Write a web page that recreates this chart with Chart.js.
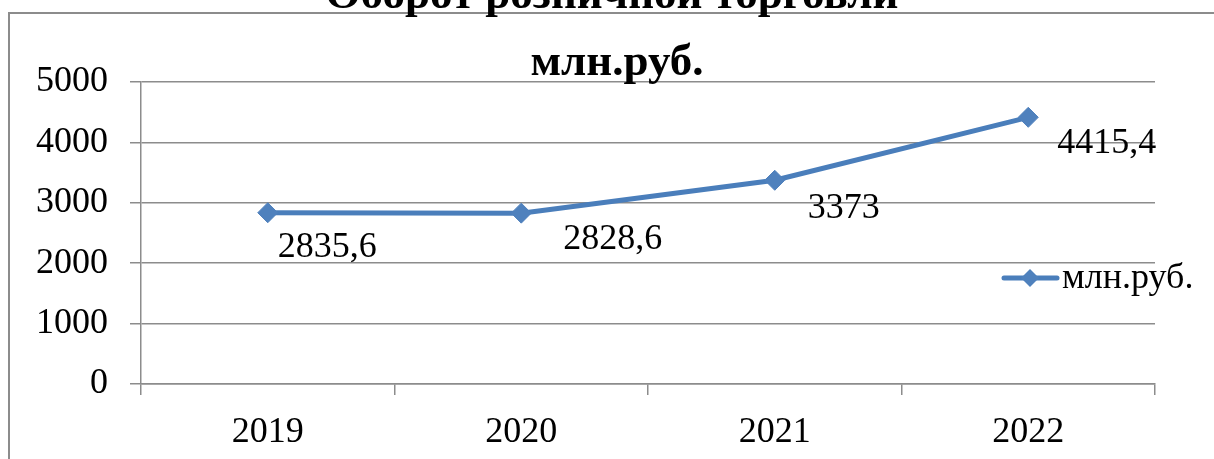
<!DOCTYPE html>
<html>
<head>
<meta charset="utf-8">
<script src="https://cdn.jsdelivr.net/npm/chart.js@4/dist/chart.umd.min.js"></script>
<style>
    html, body { margin: 0; padding: 0; background: #ffffff; }
    #wrap { width: 1214px; height: 459px; position: relative; }
</style>
</head>
<body>
<div id="wrap"><canvas id="salesChart"></canvas></div>
<script>
// Retail turnover chart - line with labels

const years = ['2019', '2020', '2021', '2022'];
const turnover = [2835.6, 2828.6, 3373, 4415.4];
const yTicks = [0, 1000, 2000, 3000, 4000, 5000];
const seriesName = 'млн.руб.';
const chartTitle = 'Оборот розничной торговли';
const chartSubtitle = 'млн.руб.';

// label offsets from each point (manually placed in the original)
const labelDx = [10, 42, 33, 29];
const labelDy = [44, 36, 38, 36];

const SERIF = "'Liberation Serif', 'Times New Roman', serif";
const LINE_COLOR = '#4a7ebb';
const MARK_COLOR = '#4f81bd';
const GRID_COLOR = '#8c8c8c';

const frameAndText = {
    id: 'frameAndText',
    beforeDraw(chart) {
        const ctx = chart.ctx;
        ctx.save();
        ctx.fillStyle = '#ffffff';
        ctx.fillRect(0, 0, chart.width, chart.height);
        ctx.strokeStyle = GRID_COLOR;
        ctx.lineWidth = 2;
        ctx.strokeRect(9, 13, chart.width + 20, chart.height + 20);
        ctx.restore();
    },
    afterDatasetsDraw(chart) {
        const ctx = chart.ctx;
        const meta = chart.getDatasetMeta(0);
        ctx.save();
        ctx.fillStyle = '#000000';
        ctx.font = '36px ' + SERIF;
        ctx.textAlign = 'left';
        ctx.textBaseline = 'alphabetic';
        meta.data.forEach(function (pt, i) {
            const txt = String(turnover[i]).replace('.', ',');
            ctx.fillText(txt, pt.x + labelDx[i], pt.y + labelDy[i]);
        });
        ctx.restore();
    },
    afterDraw(chart) {
        const ctx = chart.ctx;
        ctx.save();
        ctx.fillStyle = '#000000';
        ctx.textAlign = 'center';
        ctx.textBaseline = 'alphabetic';
        ctx.font = 'bold 45px ' + SERIF;
        ctx.fillText(chartTitle, 612, 8);
        ctx.fillText(chartSubtitle, 617, 75);

        // legend
        const ly = 278;
        ctx.strokeStyle = LINE_COLOR;
        ctx.lineWidth = 5;
        ctx.lineCap = 'round';
        ctx.beginPath();
        ctx.moveTo(1004, ly);
        ctx.lineTo(1057, ly);
        ctx.stroke();
        ctx.fillStyle = MARK_COLOR;
        ctx.beginPath();
        ctx.moveTo(1030, ly - 9);
        ctx.lineTo(1039, ly);
        ctx.lineTo(1030, ly + 9);
        ctx.lineTo(1021, ly);
        ctx.closePath();
        ctx.fill();
        ctx.fillStyle = '#000000';
        ctx.textAlign = 'left';
        ctx.font = '36px ' + SERIF;
        ctx.fillText(seriesName, 1062, 288);
        ctx.restore();
    }
};

document.addEventListener('DOMContentLoaded', function () {
    const canvas = document.getElementById('salesChart');
    const ctx = canvas.getContext('2d');

    new Chart(ctx, {
        type: 'line',
        data: {
            labels: years,
            datasets: [{
                label: seriesName,
                data: turnover,
                borderColor: LINE_COLOR,
                borderWidth: 5,
                tension: 0,
                pointStyle: 'rectRot',
                pointRadius: 10,
                pointHoverRadius: 10,
                pointBackgroundColor: MARK_COLOR,
                pointBorderColor: MARK_COLOR,
                pointBorderWidth: 1
            }]
        },
        options: {
            responsive: true,
            maintainAspectRatio: false,
            animation: false,
            layout: {
                padding: { top: 82, right: 59, left: 0, bottom: 0 }
            },
            plugins: {
                legend: { display: false },
                title: { display: false },
                tooltip: { enabled: false }
            },
            scales: {
                x: {
                    offset: true,
                    afterFit: function (scale) { scale.height = 75; },
                    grid: {
                        offset: true,
                        drawOnChartArea: false,
                        drawTicks: true,
                        tickLength: 11,
                        color: GRID_COLOR,
                        lineWidth: 1.5
                    },
                    border: { display: true, color: GRID_COLOR, width: 1.5 },
                    ticks: {
                        color: '#000000',
                        padding: 16,
                        maxRotation: 0,
                        font: { size: 36, family: SERIF }
                    }
                },
                y: {
                    min: 0,
                    max: 5000,
                    afterFit: function (scale) { scale.width = 141; },
                    afterBuildTicks: function (scale) {
                        scale.ticks = yTicks.map(function (v) { return { value: v }; });
                    },
                    grid: {
                        drawTicks: true,
                        tickLength: 11,
                        color: GRID_COLOR,
                        lineWidth: 1.5
                    },
                    border: { display: true, color: GRID_COLOR, width: 1.5 },
                    ticks: {
                        color: '#000000',
                        padding: 22,
                        font: { size: 36, family: SERIF },
                        callback: function (value) {
                            return String(value);
                        }
                    }
                }
            }
        },
        plugins: [frameAndText]
    });
});
</script>
</body>
</html>
